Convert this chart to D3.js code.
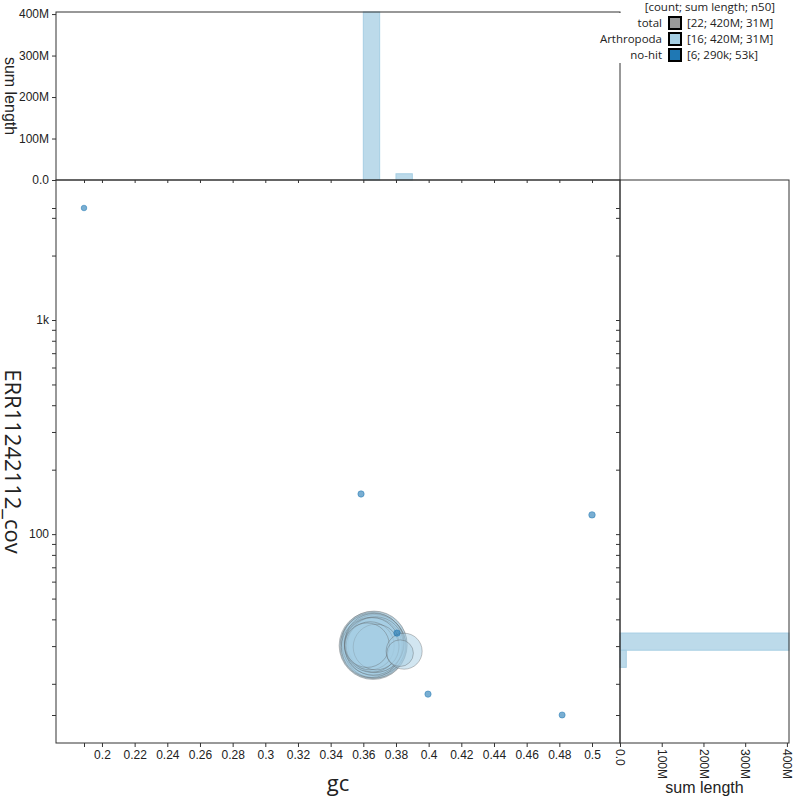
<!DOCTYPE html>
<html>
<head>
<meta charset="utf-8">
<script src="https://cdn.jsdelivr.net/npm/d3@7"></script>
<style>
  body { margin: 0; background: #fff; }
  .axis line { stroke: #333; }
  .axis text { font-family: "Liberation Sans", Arial, sans-serif; font-size: 12px; fill: #222; }
  .frame { fill: none; stroke: #333; stroke-width: 1; }
  .title { font-family: "Liberation Sans", Arial, sans-serif; fill: #222; }
  .legend text { font-family: "Open Sans", sans-serif; font-size: 11.5px; fill: #222; }
</style>
</head>
<body>
<svg id="chart" width="800" height="800"></svg>
<script>
// contigs: gc, coverage, length, taxon
const contigGc = [0.3660, 0.3665, 0.3655, 0.3670, 0.3658, 0.3672, 0.3650, 0.3668, 0.3662, 0.3675, 0.3652, 0.3642, 0.3623, 0.3678,
                  0.3850, 0.3825,
                  0.189, 0.3586, 0.500, 0.4817, 0.3806, 0.3996];
const contigCov = [30.2, 30.6, 30.0, 29.8, 30.8, 30.3, 29.6, 31.0, 29.9, 30.5, 30.4, 30.1, 30.3, 29.7,
                   28.4, 27.8,
                   3335, 154, 123, 14.3, 34.5, 17.9];
const contigLength = [40e6, 38e6, 36e6, 34e6, 33e6, 32e6, 31e6, 30e6, 28e6, 26e6, 25e6, 19e6, 16e6, 17e6,
                      10e6, 5e6,
                      25e3, 53e3, 60e3, 45e3, 55e3, 52e3];
const contigTaxon = ["Arthropoda", "Arthropoda", "Arthropoda", "Arthropoda", "Arthropoda", "Arthropoda", "Arthropoda",
                     "Arthropoda", "Arthropoda", "Arthropoda", "Arthropoda", "Arthropoda", "Arthropoda", "Arthropoda",
                     "Arthropoda", "Arthropoda",
                     "no-hit", "no-hit", "no-hit", "no-hit", "no-hit", "no-hit"];

const taxa = ["Arthropoda", "no-hit"];
const taxaColors = ["#a6cee3", "#1f78b4"];

const legendLabels = ["total", "Arthropoda", "no-hit"];
const legendColors = ["#999999", "#a6cee3", "#1f78b4"];
const legendStats = ["[22; 420M; 31M]", "[16; 420M; 31M]", "[6; 290k; 53k]"];

const xTickValues = [0.2, 0.22, 0.24, 0.26, 0.28, 0.3, 0.32, 0.34, 0.36, 0.38, 0.4, 0.42, 0.44, 0.46, 0.48, 0.5];

const contigs = contigGc.map((g, i) => ({
    gc: g, cov: contigCov[i], len: contigLength[i], taxon: contigTaxon[i]
}));

const svg = d3.select('#chart');
const main = {left: 56, top: 180, right: 620, bottom: 743};
const histTop = 12, histRight = 789, pad = 28;

const color = d3.scaleOrdinal().domain(taxa).range(taxaColors);

const gcExtent = d3.extent(contigGc);
const covExtent = d3.extent(contigCov);

const x = d3.scaleLinear().domain(gcExtent).range([main.left + pad, main.right - pad]);
const y = d3.scaleLog().domain(covExtent).range([main.bottom - pad, main.top + pad]);
const r = d3.scaleSqrt().domain([0, d3.max(contigLength)]).range([2, 34]);

// histogram bins (gc in steps of 0.01, coverage in log steps)
const gcThresholds = d3.range(18, 53).map(d => d / 100);
const covThresholds = d3.range(0, 32).map(k => Math.pow(10, 1.138 + 0.08 * k));

const gcBins = taxa.map(t => d3.bin().value(d => d.gc).domain([0.18, 0.52]).thresholds(gcThresholds)
    (contigs.filter(d => d.taxon === t)).map(b => ({taxon: t, x0: b.x0, x1: b.x1, sum: d3.sum(b, d => d.len)})));
const covBins = taxa.map(t => d3.bin().value(d => d.cov).domain([10, 5000]).thresholds(covThresholds)
    (contigs.filter(d => d.taxon === t)).map(b => ({taxon: t, x0: b.x0, x1: b.x1, sum: d3.sum(b, d => d.len)})));

const histMax = d3.max([...gcBins.flat(), ...covBins.flat()], d => d.sum);
const hTop = d3.scaleLinear().domain([0, histMax]).range([main.top, histTop]);
const hRight = d3.scaleLinear().domain([0, histMax]).range([main.right, histRight]);

// ---- top histogram
svg.append('g').selectAll('rect')
    .data(gcBins.flat().filter(d => d.sum > 0))
    .enter().append('rect')
    .attr('x', d => x(d.x0))
    .attr('width', d => x(d.x1) - x(d.x0))
    .attr('y', d => hTop(d.sum))
    .attr('height', d => main.top - hTop(d.sum))
    .attr('fill', d => color(d.taxon))
    .attr('fill-opacity', 0.75)
    .attr('stroke', d => main.top - hTop(d.sum) > 1 ? color(d.taxon) : 'none');

// ---- right histogram
svg.append('g').selectAll('rect')
    .data(covBins.flat().filter(d => d.sum > 0))
    .enter().append('rect')
    .attr('x', main.right)
    .attr('width', d => hRight(d.sum) - main.right)
    .attr('y', d => y(d.x1))
    .attr('height', d => y(d.x0) - y(d.x1))
    .attr('fill', d => color(d.taxon))
    .attr('fill-opacity', 0.75)
    .attr('stroke', d => hRight(d.sum) - main.right > 1 ? color(d.taxon) : 'none');

// ---- blobs, biggest first
svg.append('g').selectAll('circle')
    .data(contigs.slice().sort((a, b) => b.len - a.len))
    .enter().append('circle')
    .attr('cx', d => x(d.gc))
    .attr('cy', d => y(d.cov))
    .attr('r', d => r(d.len))
    .attr('fill', d => color(d.taxon))
    .attr('fill-opacity', d => d.taxon === 'no-hit' ? 0.6 : 0.5)
    .attr('stroke', d => d.taxon === 'no-hit' ? color(d.taxon) : '#555')
    .attr('stroke-opacity', d => d.taxon === 'no-hit' ? 0.5 : 0.35)
    .attr('stroke-width', 1);

// ---- frames
svg.append('rect').attr('class', 'frame')
    .attr('x', main.left).attr('y', main.top)
    .attr('width', main.right - main.left).attr('height', main.bottom - main.top);
svg.append('rect').attr('class', 'frame')
    .attr('x', main.left).attr('y', histTop)
    .attr('width', main.right - main.left).attr('height', main.top - histTop);
svg.append('rect').attr('class', 'frame')
    .attr('x', main.right).attr('y', main.top)
    .attr('width', histRight - main.right).attr('height', main.bottom - main.top);

// ---- axes
const fmtGc = d3.format('.2~f');
const xTicks = Array.from(new Set([...xTickValues, ...gcExtent]));
const yTicks = [...y.ticks(), ...covExtent];
const isDecade = d => Math.abs(Math.log10(d) - Math.round(Math.log10(d))) < 1e-9;
const fmtSi = d => d === 0 ? '0.0' : d3.format('~s')(d);

function axis(g) {
    g.attr('class', 'axis');
    g.select('.domain').remove();
}

svg.append('g')
    .attr('transform', `translate(0,${main.bottom})`)
    .call(d3.axisBottom(x).tickValues(xTicks).tickSize(4).tickPadding(3)
        .tickFormat(d => xTickValues.includes(d) ? fmtGc(d) : ''))
    .call(axis);

svg.append('g')
    .attr('transform', `translate(${main.left},0)`)
    .call(d3.axisLeft(y).tickValues(yTicks).tickSize(4).tickPadding(3)
        .tickFormat(d => isDecade(d) ? d3.format('~s')(d) : ''))
    .call(axis);

// top histogram axes
svg.append('g')
    .attr('transform', `translate(0,${main.top})`)
    .call(d3.axisBottom(x).tickValues(xTicks).tickSize(3).tickFormat(''))
    .call(axis);

svg.append('g')
    .attr('transform', `translate(${main.left},0)`)
    .call(d3.axisLeft(hTop).ticks(5).tickSize(4).tickPadding(3).tickFormat(fmtSi))
    .call(axis);

// right histogram axes
svg.append('g')
    .attr('transform', `translate(${main.right},0)`)
    .call(d3.axisLeft(y).tickValues(yTicks).tickSize(4).tickFormat(''))
    .call(axis);

svg.append('g')
    .attr('transform', `translate(0,${main.bottom})`)
    .call(d3.axisBottom(hRight).ticks(5).tickSize(4).tickFormat(fmtSi))
    .call(axis)
    .selectAll('text')
    .attr('transform', 'rotate(90)')
    .attr('x', 6).attr('y', 0).attr('dy', '0.35em')
    .style('text-anchor', 'start');

// ---- axis titles
svg.append('text').attr('class', 'title')
    .attr('x', (main.left + main.right) / 2).attr('y', 791)
    .attr('text-anchor', 'middle')
    .style('font-family', '"Open Sans", sans-serif').style('font-size', '22px')
    .text('gc');

svg.append('text').attr('class', 'title')
    .attr('transform', `translate(5,${(main.top + main.bottom) / 2}) rotate(90)`)
    .attr('text-anchor', 'middle')
    .style('font-family', '"Open Sans", sans-serif').style('font-size', '22px')
    .text('ERR11242112_cov');

svg.append('text').attr('class', 'title')
    .attr('transform', `translate(5,${(main.top + histTop) / 2}) rotate(90)`)
    .attr('text-anchor', 'middle')
    .style('font-size', '16px')
    .text('sum length');

svg.append('text').attr('class', 'title')
    .attr('x', (main.right + histRight) / 2).attr('y', 793)
    .attr('text-anchor', 'middle')
    .style('font-size', '16px')
    .text('sum length');

// ---- legend
const legend = svg.append('g').attr('class', 'legend');
legend.append('rect')
    .attr('x', 598).attr('y', 13).attr('width', 202).attr('height', 50)
    .attr('fill', '#fff');
legend.append('text')
    .attr('x', 775).attr('y', 11).attr('text-anchor', 'end')
    .text('[count; sum length; n50]');

const rows = legend.selectAll('g.row')
    .data(legendLabels)
    .enter().append('g')
    .attr('class', 'row')
    .attr('transform', (d, i) => `translate(0,${23 + i * 16})`);

rows.append('text')
    .attr('x', 662).attr('dy', '0.35em').attr('text-anchor', 'end')
    .text(d => d);

rows.append('rect')
    .attr('x', 669).attr('y', -6).attr('width', 12).attr('height', 12)
    .attr('fill', (d, i) => legendColors[i])
    .attr('stroke', '#000').attr('stroke-width', 2);

rows.append('text')
    .attr('x', 687).attr('dy', '0.35em')
    .text((d, i) => legendStats[i]);
</script>
</body>
</html>
